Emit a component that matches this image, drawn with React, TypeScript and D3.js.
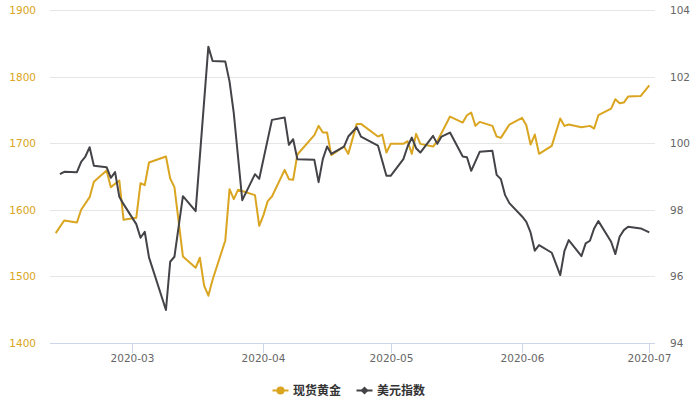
import * as d3 from 'd3';

const goldDates = [
  '2020-02-12', '2020-02-14', '2020-02-17', '2020-02-18', '2020-02-20', '2020-02-21',
  '2020-02-24', '2020-02-25', '2020-02-27', '2020-02-28', '2020-03-02', '2020-03-03',
  '2020-03-04', '2020-03-05', '2020-03-09', '2020-03-10', '2020-03-11', '2020-03-13',
  '2020-03-16', '2020-03-17', '2020-03-18', '2020-03-19', '2020-03-20', '2020-03-23',
  '2020-03-24', '2020-03-25', '2020-03-26', '2020-03-30', '2020-03-31', '2020-04-01',
  '2020-04-02', '2020-04-03', '2020-04-06', '2020-04-07', '2020-04-08', '2020-04-09',
  '2020-04-13', '2020-04-14', '2020-04-15', '2020-04-16', '2020-04-17', '2020-04-20',
  '2020-04-21', '2020-04-23', '2020-04-24', '2020-04-28', '2020-04-29', '2020-04-30',
  '2020-05-01', '2020-05-04', '2020-05-05', '2020-05-06', '2020-05-07', '2020-05-08',
  '2020-05-11', '2020-05-12', '2020-05-15', '2020-05-18', '2020-05-19', '2020-05-20',
  '2020-05-21', '2020-05-22', '2020-05-25', '2020-05-26', '2020-05-27', '2020-05-29',
  '2020-06-01', '2020-06-02', '2020-06-03', '2020-06-04', '2020-06-05', '2020-06-08',
  '2020-06-10', '2020-06-11', '2020-06-12', '2020-06-15', '2020-06-17', '2020-06-18',
  '2020-06-19', '2020-06-22', '2020-06-23', '2020-06-24', '2020-06-25', '2020-06-26',
  '2020-06-29', '2020-07-01',
];
const goldValues = [
  1565, 1584, 1581, 1600, 1619, 1642,
  1659, 1634, 1644, 1585, 1588, 1640,
  1637, 1671, 1680, 1647, 1634, 1530,
  1513, 1528, 1486, 1471, 1495, 1554,
  1631, 1616, 1630, 1622, 1576, 1592,
  1613, 1620, 1660, 1646, 1645, 1683,
  1712, 1726, 1716, 1716, 1682, 1695,
  1684, 1729, 1729, 1710, 1713, 1686,
  1699, 1699, 1703, 1684, 1714, 1699,
  1695, 1703, 1740, 1731, 1742, 1746,
  1726, 1732, 1726, 1710, 1708, 1728,
  1738, 1727, 1698, 1713, 1684, 1696,
  1737, 1726, 1728, 1724, 1726, 1722,
  1742, 1752, 1766, 1760, 1761, 1770,
  1771, 1787,
];

const usdDates = [
  '2020-02-13', '2020-02-14', '2020-02-17', '2020-02-18', '2020-02-19', '2020-02-20',
  '2020-02-21', '2020-02-24', '2020-02-25', '2020-02-26', '2020-02-27', '2020-02-28',
  '2020-03-02', '2020-03-03', '2020-03-04', '2020-03-05', '2020-03-09', '2020-03-10',
  '2020-03-11', '2020-03-13', '2020-03-16', '2020-03-19', '2020-03-20', '2020-03-23',
  '2020-03-24', '2020-03-25', '2020-03-27', '2020-03-30', '2020-03-31', '2020-04-03',
  '2020-04-06', '2020-04-07', '2020-04-08', '2020-04-09', '2020-04-13', '2020-04-14',
  '2020-04-15', '2020-04-16', '2020-04-17', '2020-04-20', '2020-04-21', '2020-04-23',
  '2020-04-24', '2020-04-28', '2020-04-30', '2020-05-01', '2020-05-04', '2020-05-05',
  '2020-05-06', '2020-05-07', '2020-05-08', '2020-05-11', '2020-05-12', '2020-05-13',
  '2020-05-15', '2020-05-18', '2020-05-19', '2020-05-20', '2020-05-22', '2020-05-25',
  '2020-05-26', '2020-05-27', '2020-05-28', '2020-05-29', '2020-06-01', '2020-06-02',
  '2020-06-03', '2020-06-04', '2020-06-05', '2020-06-08', '2020-06-10', '2020-06-11',
  '2020-06-12', '2020-06-15', '2020-06-16', '2020-06-17', '2020-06-18', '2020-06-19',
  '2020-06-22', '2020-06-23', '2020-06-24', '2020-06-25', '2020-06-26', '2020-06-29',
  '2020-07-01',
];
const usdValues = [
  99.07, 99.14, 99.13, 99.44, 99.6, 99.88,
  99.32, 99.28, 98.96, 99.13, 98.39, 98.17,
  97.57, 97.16, 97.34, 96.57, 94.99, 96.44,
  96.59, 98.41, 97.96, 102.9, 102.47, 102.45,
  101.85, 100.9, 98.29, 99.07, 98.93, 100.7,
  100.77, 99.95, 100.12, 99.52, 99.5, 98.83,
  99.52, 99.9, 99.68, 99.9, 100.2, 100.48,
  100.2, 99.93, 99.02, 99.02, 99.52, 99.9,
  100.17, 99.85, 99.72, 100.22, 99.98, 100.2,
  100.32, 99.6, 99.58, 99.17, 99.74, 99.77,
  99.05, 98.92, 98.44, 98.2, 97.8, 97.64,
  97.32, 96.77, 96.94, 96.71, 96.04, 96.77,
  97.09, 96.61, 96.99, 97.07, 97.44, 97.66,
  97.04, 96.67, 97.19, 97.39, 97.49, 97.44,
  97.32,
];

const xTicks = ['2020-03-01', '2020-04-01', '2020-05-01', '2020-06-01', '2020-07-01'];
const leftTicks = [1400, 1500, 1600, 1700, 1800, 1900];
const rightTicks = [94, 96, 98, 100, 102, 104];
const seriesNames = ['现货黄金', '美元指数'];

const W = 700;
const H = 400;
const plot = { left: 50, right: 655, top: 10, bottom: 343 };
const GOLD = '#daa520';
const DARK = '#434348';
const FONT = '"DejaVu Sans", Verdana, sans-serif';

const parse = d3.timeParse('%Y-%m-%d');
const fmt = d3.timeFormat('%Y-%m');
const DAY = 864e5;
const PAD_DAYS = 1.35;

export default function App() {
  const gold = goldDates.map((d, i) => ({ date: parse(d)!, value: goldValues[i] }));
  const usd = usdDates.map((d, i) => ({ date: parse(d)!, value: usdValues[i] }));

  const [d0, d1] = d3.extent(gold, (d) => d.date) as [Date, Date];
  const x = d3
    .scaleTime()
    .domain([new Date(+d0 - PAD_DAYS * DAY), new Date(+d1 + PAD_DAYS * DAY)])
    .range([plot.left, plot.right]);
  const yL = d3.scaleLinear().domain([1400, 1900]).range([plot.bottom, plot.top]);
  const yR = d3.scaleLinear().domain([94, 104]).range([plot.bottom, plot.top]);

  type P = { date: Date; value: number };
  const goldLine = d3
    .line<P>()
    .x((d) => x(d.date))
    .y((d) => yL(d.value));
  const usdLine = d3
    .line<P>()
    .x((d) => x(d.date))
    .y((d) => yR(d.value));

  const legendY = 390.5;

  return (
    <svg
      width={W}
      height={H}
      style={{ position: 'absolute', left: 0, top: 0, fontFamily: FONT }}
    >
      <rect width={W} height={H} fill="#fff" />

      {/* grid */}
      {leftTicks.map((t) => (
        <line
          key={t}
          x1={plot.left}
          x2={plot.right}
          y1={Math.round(yL(t)) + 0.5}
          y2={Math.round(yL(t)) + 0.5}
          stroke={t === 1400 ? '#ccd6eb' : '#e6e6e6'}
          strokeWidth={1}
        />
      ))}

      {/* x axis ticks */}
      {xTicks.map((t) => {
        const xx = Math.round(x(parse(t)!)) + 0.5;
        return (
          <g key={t}>
            <line x1={xx} x2={xx} y1={plot.bottom} y2={plot.bottom + 10} stroke="#ccd6eb" />
            <text x={xx} y={plot.bottom + 18.5} textAnchor="middle" fontSize={10.5} fill="#666">
              {fmt(parse(t)!)}
            </text>
          </g>
        );
      })}

      {/* left axis labels */}
      {leftTicks.map((t) => (
        <text key={t} x={36} y={yL(t) + 4} textAnchor="end" fontSize={10.5} fill={GOLD}>
          {t}
        </text>
      ))}

      {/* right axis labels */}
      {rightTicks.map((t) => (
        <text key={t} x={670} y={yR(t) + 4} textAnchor="start" fontSize={10.5} fill="#666">
          {t}
        </text>
      ))}

      {/* series */}
      <path d={goldLine(gold)!} fill="none" stroke={GOLD} strokeWidth={2} strokeLinejoin="round" />
      <path d={usdLine(usd)!} fill="none" stroke={DARK} strokeWidth={2} strokeLinejoin="round" />

      {/* legend */}
      <g fontFamily='"Noto Sans CJK SC", sans-serif' fontSize={12} fontWeight="bold" fill="#333">
        <line x1={272.5} x2={288.5} y1={legendY} y2={legendY} stroke={GOLD} strokeWidth={2} />
        <circle cx={280.5} cy={legendY} r={4} fill={GOLD} />
        <text x={293} y={legendY + 4.5}>{seriesNames[0]}</text>
        <line x1={356.5} x2={372.5} y1={legendY} y2={legendY} stroke={DARK} strokeWidth={2} />
        <path
          d={`M364.5,${legendY - 4}L368.5,${legendY}L364.5,${legendY + 4}L360.5,${legendY}Z`}
          fill={DARK}
        />
        <text x={377} y={legendY + 4.5}>{seriesNames[1]}</text>
      </g>
    </svg>
  );
}
